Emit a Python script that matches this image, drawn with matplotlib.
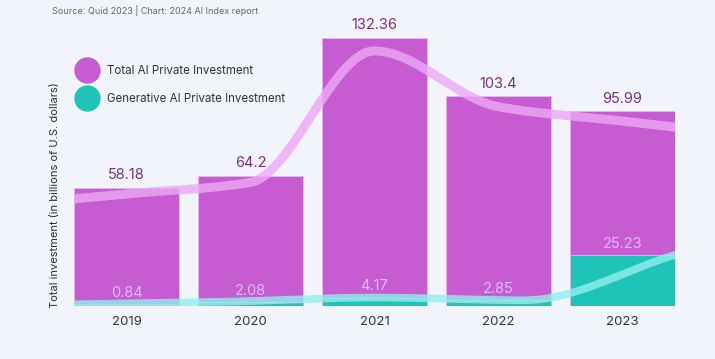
import numpy as np
import matplotlib
matplotlib.use("Agg")
import matplotlib.pyplot as plt
from matplotlib.lines import Line2D

plt.rcParams['font.family'] = ['Inter', 'DejaVu Sans']

years = ['2019', '2020', '2021', '2022', '2023']
total_ai = [58.18, 64.2, 132.36, 103.4, 95.99]
gen_ai = [0.84, 2.08, 4.17, 2.85, 25.23]

bg = '#f1f5fb'
purple = '#c65bd2'
teal = '#1fc4b8'


def pchip(xk, yk, xs):
    # monotone cubic through the knots, linear beyond the ends
    xk = np.asarray(xk, float)
    yk = np.asarray(yk, float)
    h = np.diff(xk)
    d = np.diff(yk) / h
    m = np.zeros_like(yk)
    for i in range(1, len(yk) - 1):
        if d[i - 1] * d[i] > 0:
            w1 = 2 * h[i] + h[i - 1]
            w2 = h[i] + 2 * h[i - 1]
            m[i] = (w1 + w2) / (w1 / d[i - 1] + w2 / d[i])
    m[0] = d[0]
    m[-1] = d[-1]
    out = np.empty_like(xs)
    for j, x in enumerate(xs):
        if x < xk[0]:
            out[j] = yk[0] + m[0] * (x - xk[0])
            continue
        if x > xk[-1]:
            out[j] = yk[-1] + m[-1] * (x - xk[-1])
            continue
        i = min(max(np.searchsorted(xk, x) - 1, 0), len(h) - 1)
        t = (x - xk[i]) / h[i]
        h00 = 2 * t**3 - 3 * t**2 + 1
        h10 = t**3 - 2 * t**2 + t
        h01 = -2 * t**3 + 3 * t**2
        h11 = t**3 - t**2
        out[j] = h00 * yk[i] + h10 * h[i] * m[i] + h01 * yk[i + 1] + h11 * h[i] * m[i + 1]
    return out


fig = plt.figure(figsize=(7.15, 3.59), dpi=100, facecolor=bg)
ax = fig.add_axes([74 / 715, 53 / 359, 601 / 715, 286 / 359])
ax.set_facecolor(bg)

x = np.arange(len(years))
w = 0.85
ax.bar(x, total_ai, width=w, color=purple, edgecolor='#e3b8ee', linewidth=0.6, zorder=2)
ax.bar(x, gen_ai, width=w, color=teal, edgecolor='#e3b8ee', linewidth=0.6, zorder=3)

# decorative smoothed trend lines
xs = np.linspace(-w / 2, len(years) - 1 + w / 2, 300)
ax.plot(xs, pchip(x, np.array(total_ai) * 0.95, xs), color='#eca8f6',
        lw=6.5, alpha=0.8, solid_capstyle='round', zorder=4)
edge_knots = np.linspace(-w / 2, len(years) - 1 + w / 2, len(years))
ax.plot(xs, pchip(edge_knots, gen_ai, xs), color='#8ff0ee',
        lw=5.5, alpha=0.8, solid_capstyle='round', zorder=4)

for xi, v in zip(x, total_ai):
    ax.annotate(f'{v:g}', (xi, v), xytext=(0, 4), textcoords='offset points',
                ha='center', va='bottom', fontsize=10.5, color='#7b2f80', zorder=5)
for xi, v in zip(x, gen_ai):
    ax.annotate(f'{v:g}', (xi, v), xytext=(0, 3), textcoords='offset points',
                ha='center', va='bottom', fontsize=10.5, color='#d9bff5', zorder=5)

ax.set_xlim(-w / 2, len(years) - 1 + w / 2)
ax.set_ylim(0, 141)
ax.set_xticks(x)
ax.set_xticklabels(years, fontsize=9.5, color='#333333')
ax.tick_params(axis='x', length=0, pad=7)
ax.set_yticks([])
for s in ax.spines.values():
    s.set_visible(False)

fig.text(55 / 715, 1 - 195 / 359, 'Total investment (in billions of U.S. dollars)',
         rotation=90, ha='center', va='center', fontsize=8, color='#2b2b2b')
fig.text(52 / 715, 1 - 10 / 359, 'Source: Quid 2023 | Chart: 2024 AI Index report',
         ha='left', va='center', fontsize=6.5, color='#666666')

handles = [Line2D([], [], marker='o', ls='', markersize=18, color=purple),
           Line2D([], [], marker='o', ls='', markersize=18, color=teal)]
fig.legend(handles, ['Total AI Private Investment', 'Generative AI Private Investment'],
           loc='center left', bbox_to_anchor=(80 / 715, 1 - 85 / 359), frameon=False,
           fontsize=8.3, labelcolor='#333333', handletextpad=1.1, labelspacing=1.35,
           borderaxespad=0, borderpad=0, handlelength=1.2)

fig.savefig('out.png', dpi=100, facecolor=bg)
